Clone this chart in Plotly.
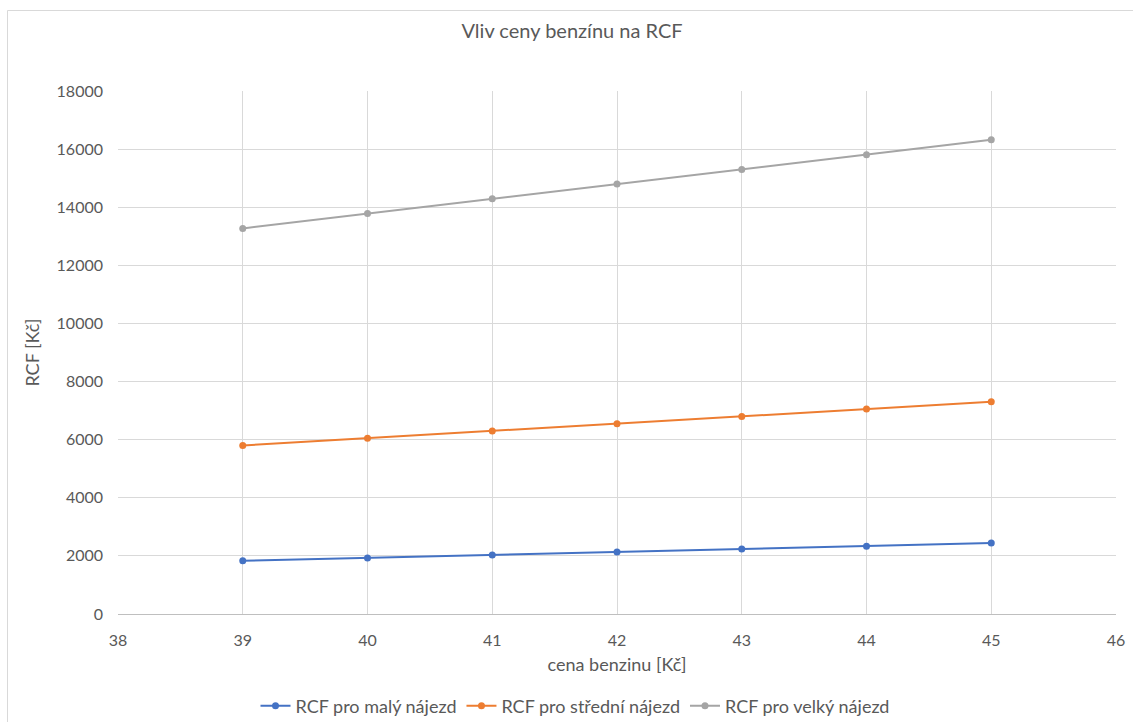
import plotly.graph_objects as go

# Fuel price [Kč] and resulting RCF for three mileage levels
cena = [39, 40, 41, 42, 43, 44, 45]
rcf_maly = [1830, 1930, 2030, 2135, 2235, 2335, 2440]
rcf_stredni = [5800, 6050, 6300, 6550, 6800, 7055, 7305]
rcf_velky = [13270, 13780, 14290, 14800, 15300, 15810, 16320]

series = [
    ("RCF pro malý nájezd", rcf_maly, "#4472C4"),
    ("RCF pro střední nájezd", rcf_stredni, "#ED7D31"),
    ("RCF pro velký nájezd", rcf_velky, "#A5A5A5"),
]

FONT = "Lato, Carlito, 'Liberation Sans', sans-serif"
TXT = "#595959"

fig = go.Figure()
for name, vals, col in series:
    fig.add_trace(go.Scatter(
        x=cena, y=vals, name=name, mode="lines+markers",
        line=dict(color=col, width=2),
        marker=dict(color=col, size=7, symbol="circle"),
    ))

W, H = 1133, 722
L, R, T, B = 118, 17, 91, 108

fig.update_layout(
    width=W, height=H,
    margin=dict(l=L, r=R, t=T, b=B, autoexpand=False),
    paper_bgcolor="white", plot_bgcolor="white",
    font=dict(family=FONT, color=TXT, size=16),
    title=dict(text="Vliv ceny benzínu na RCF", x=572 / W, xanchor="center",
               xref="container", y=1 - 31 / H, yanchor="middle", yref="container",
               font=dict(size=20, color=TXT)),
    showlegend=True,
    legend=dict(orientation="h", x=575 / W, xanchor="center", xref="container",
                y=1 - 706 / H, yanchor="middle", yref="container",
                font=dict(size=18, color=TXT), tracegroupgap=0),
    xaxis=dict(range=[38, 46], dtick=1, tick0=38, showgrid=True,
               gridcolor="#D9D9D9", gridwidth=1, zeroline=False,
               showline=True, linecolor="#BFBFBF", linewidth=1,
               ticks="", ticklabelstandoff=12,
               title=dict(text="cena benzinu [Kč]", standoff=10,
                          font=dict(size=18, color=TXT))),
    yaxis=dict(range=[0, 18000], dtick=2000, tickformat="d", showgrid=True,
               gridcolor="#D9D9D9", gridwidth=1, zeroline=False,
               showline=False, ticks="", ticklabelstandoff=14,
               title=dict(text="RCF [Kč]", standoff=12,
                          font=dict(size=18, color=TXT))),
)

# Light frame around the chart area (top and left edges within the page)
pw, ph = W - L - R, H - T - B
fx0 = (7.5 - L) / pw
fy1 = 1 - (10.5 - T) / ph
fig.add_shape(type="line", xref="paper", yref="paper", x0=fx0, x1=(W + 5 - L) / pw,
              y0=fy1, y1=fy1, line=dict(color="#D9D9D9", width=1), layer="below")
fig.add_shape(type="line", xref="paper", yref="paper", x0=fx0, x1=fx0,
              y0=fy1, y1=1 - (H + 5 - T) / ph, line=dict(color="#D9D9D9", width=1),
              layer="below")

fig.write_html("out.html")
